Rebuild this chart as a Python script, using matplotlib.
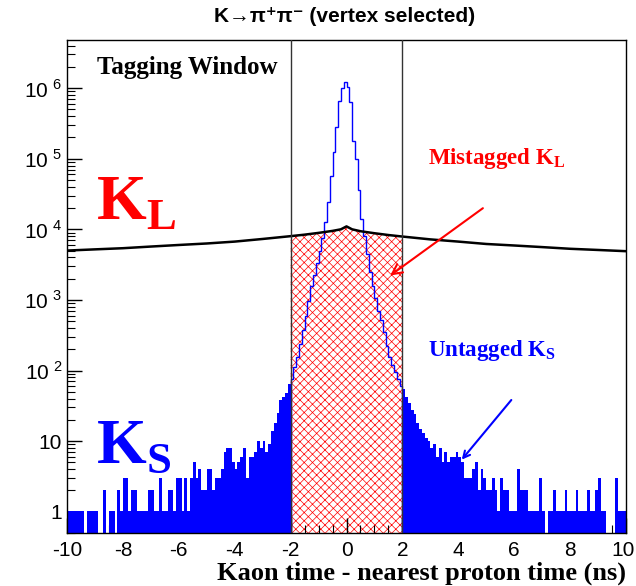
import numpy as np
import matplotlib
matplotlib.use("Agg")
import matplotlib.pyplot as plt
import matplotlib.transforms as mtransforms
from matplotlib.ticker import FixedLocator, LogLocator, NullFormatter, MultipleLocator

plt.rcParams['mathtext.fontset'] = 'custom'
plt.rcParams['mathtext.rm'] = 'Liberation Serif:bold'
plt.rcParams['mathtext.sf'] = 'Liberation Sans'
plt.rcParams['hatch.linewidth'] = 0.5

# K_L time distribution (black curve), read at a few points
kl_x = [-10, -9, -8, -7, -6, -5, -4, -3, -2, -1.5, -1, -0.5, -0.2, 0, 0.2, 0.5, 1, 1.5, 2, 3, 4, 5, 6, 7, 8, 9, 10]
kl_y = [5000, 5200, 5400, 5700, 6000, 6300, 6700, 7300, 8000, 8400, 8900, 9500, 10000, 11000, 10000, 9400, 8800, 8300, 7900, 7200, 6700, 6200, 5900, 5600, 5300, 5100, 4900]

# K_S outside the tagging window (filled), 0.1 ns bins
ks_left_edges = np.round(np.arange(-10.0, -1.95, 0.1), 2)
ks_left = [1, 1, 1, 1, 1, 1, 0, 1, 1, 1,
           1, 0, 0, 2, 0, 1, 1, 0, 2, 1,
           3, 3, 1, 2, 2, 1, 1, 1, 1, 2,
           2, 1, 1, 3, 1, 1, 2, 2, 1, 3,
           3, 1, 3, 1, 3, 5, 3, 4, 2, 2,
           4, 4, 2, 3, 3, 4, 7, 8, 8, 5,
           4, 5, 6, 8, 3, 6, 6, 7, 10, 8,
           10, 7, 9, 14, 18, 25, 38, 42, 48, 65]
ks_right_edges = np.round(np.arange(2.0, 10.05, 0.1), 2)
ks_right = [55, 42, 35, 28, 24, 18, 15, 13, 11, 10,
            8, 9, 6, 8, 5, 7, 5, 6, 6, 7,
            6, 5, 3, 3, 3, 4, 5, 2, 4, 3,
            2, 2, 3, 2, 1, 3, 2, 2, 1, 1,
            1, 4, 2, 2, 2, 1, 1, 1, 1, 3,
            1, 0, 1, 1, 2, 1, 1, 1, 2, 1,
            1, 1, 2, 1, 1, 1, 2, 1, 1, 2,
            3, 1, 1, 0, 0, 0, 3, 1, 1, 1]

# K_S inside the tagging window (outline), 0.1 ns bins
ks_mid_edges = np.round(np.arange(-2.0, 2.05, 0.1), 2)
ks_mid = [76, 112, 158, 240, 380, 600, 955, 1550, 2240, 3310,
          5010, 7590, 12600, 24000, 56200, 126000, 282000, 661000, 1000000, 1230000,
          1050000, 631000, 178000, 100000, 35500, 14100, 7940, 4470, 2510, 1550,
          1050, 708, 525, 355, 224, 158, 120, 95, 76, 60]

fig = plt.figure(figsize=(6.36, 5.86), dpi=100)
ax = fig.add_axes([67 / 636, 1 - 533 / 586, 559 / 636, 493 / 586])
ax.set_yscale('log')

# mistagged K_L under the curve inside the window
kl_x_arr = np.array(kl_x)
kl_y_arr = np.array(kl_y)
win = (kl_x_arr >= -2) & (kl_x_arr <= 2)
ax.fill_between(kl_x_arr[win], kl_y_arr[win], 0.01, facecolor='none',
                edgecolor='red', hatch='xxxx', linewidth=0, zorder=1)

ax.bar(ks_left_edges[:-1] + 0.05, ks_left, width=0.1, bottom=0.01,
       color='blue', linewidth=0, zorder=2)
ax.bar(ks_right_edges[:-1] + 0.05, ks_right, width=0.1, bottom=0.01,
       color='blue', linewidth=0, zorder=2)
ax.stairs(ks_mid, ks_mid_edges, color='blue', linewidth=1.0, zorder=3)

ax.plot(kl_x, kl_y, color='black', linewidth=1.8, zorder=4)

for xv in (-2, 2):
    ax.axvline(xv, color='#333333', linewidth=1.0, zorder=5)

ax.set_xlim(-10, 10)
ax.set_ylim(0.5, 4.8e6)

ax.xaxis.set_major_locator(MultipleLocator(2))
ax.xaxis.set_minor_locator(MultipleLocator(0.5))
ax.yaxis.set_major_locator(FixedLocator([1, 10, 1e2, 1e3, 1e4, 1e5, 1e6]))
ax.yaxis.set_minor_locator(LogLocator(base=10, subs=np.arange(2, 10)))
ax.yaxis.set_minor_formatter(NullFormatter())
ax.set_yticklabels(['1', '10'] + [r'$\mathsf{10}^{\ \mathsf{%d}}$' % p for p in range(2, 7)])
ax.set_xticks([-10, -8, -6, -4, -2, 0, 2, 4, 6, 8, 10])
ax.set_xticklabels(['-10', '-8', '-6', '-4', '-2', '0', '2', '4', '6', '8', '10'])
ax.tick_params(which='both', direction='in', top=False, right=False,
               labelsize=15, labelfontfamily='Liberation Sans')
ax.tick_params(which='major', length=11, width=1)
ax.tick_params(which='minor', length=5.5, width=0.8)
ax.tick_params(axis='x', pad=6)
for sp in ax.spines.values():
    sp.set_linewidth(1.0)

# keep the last x label inside the figure
last = ax.get_xticklabels()[-1]
last.set_horizontalalignment('right')
last.set_transform(last.get_transform() +
                   mtransforms.ScaledTranslation(9 / 100, 0, fig.dpi_scale_trans))

serif = 'Liberation Serif'
ax.text(0.054, 0.931, 'Tagging Window', transform=ax.transAxes, fontsize=18,
        fontweight='bold', family=serif, va='baseline')
ax.text(0.052, 0.635, r'$\mathrm{K}_{\mathrm{L}}$', transform=ax.transAxes,
        fontsize=46, color='red', va='baseline')
ax.text(0.052, 0.144, r'$\mathrm{K}_{\mathrm{S}}$', transform=ax.transAxes,
        fontsize=46, color='blue', va='baseline')
ax.text(0.646, 0.748, r'Mistagged $\mathrm{K}_{\mathrm{L}}$', transform=ax.transAxes,
        fontsize=16.5, fontweight='bold', family=serif, color='red', va='baseline')
ax.text(0.646, 0.359, r'Untagged $\mathrm{K}_{\mathrm{S}}$', transform=ax.transAxes,
        fontsize=16.5, fontweight='bold', family=serif, color='blue', va='baseline')

ax.annotate('', xy=(1.48, 2100), xytext=(4.96, 2.1e4),
            arrowprops=dict(arrowstyle='->', color='red', lw=1.5,
                            mutation_scale=18), zorder=6)
ax.annotate('', xy=(4.06, 5.1), xytext=(5.96, 41),
            arrowprops=dict(arrowstyle='->', color='blue', lw=1.5,
                            mutation_scale=12), zorder=6)

fig.text(345 / 636, 1 - 17 / 586, 'K\u2192\u03c0\u207a\u03c0\u207b (vertex selected)',
         ha='center', va='center', fontsize=15, fontweight='bold',
         family=['Liberation Sans', 'DejaVu Sans'])
fig.text(626 / 636, 1 - 580 / 586, 'Kaon time - nearest proton time (ns)',
         ha='right', va='baseline', fontsize=19, fontweight='bold', family=serif)

fig.savefig('out.png', dpi=100)
